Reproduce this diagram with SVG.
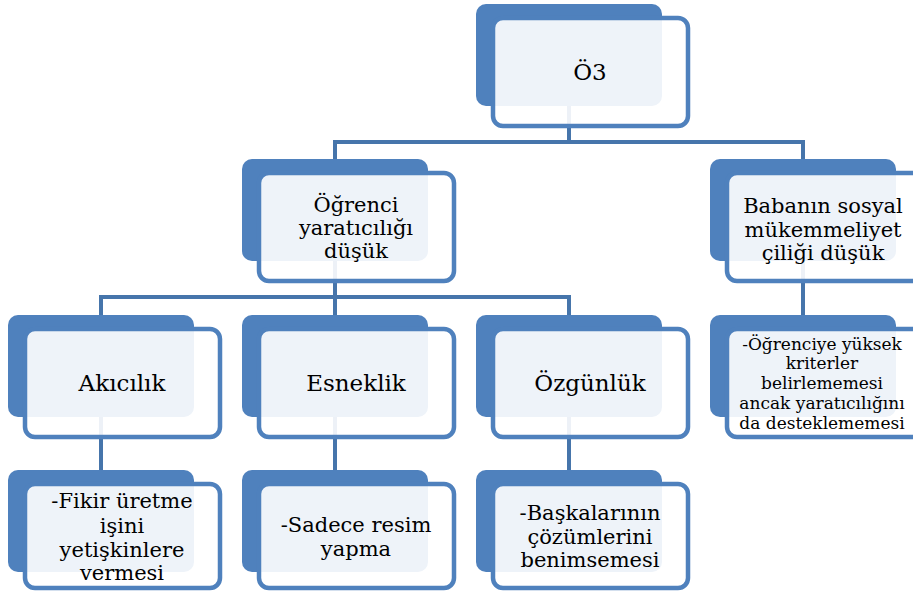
<svg xmlns="http://www.w3.org/2000/svg" width="913" height="592" viewBox="0 0 913 592">
<style>
.back{fill:#4f81bd}
.front{fill:#ffffff;fill-opacity:0.9;stroke:#4f81bd;stroke-width:4.5}
.conn{fill:none;stroke:#4675ab;stroke-width:4}
text{font-family:'DejaVu Serif','Liberation Serif',serif;font-size:21px;fill:#000;text-anchor:middle}
text.big{font-size:23px}
text.small{font-size:17px}
</style>
<rect width="913" height="592" fill="#ffffff"/>
<g id="connectors">
<path class="conn" d="M569,106 V142 M335,142 H803 M335,140 V160 M803,140 V160"/>
<path class="conn" d="M335,261 V297 M101,297 H569 M101,295 V316 M335,295 V316 M569,295 V316"/>
<path class="conn" d="M803,261 V316"/>
<path class="conn" d="M101,416 V471 M335,416 V471 M569,416 V471"/>
</g>
<g id="n-o3">
<rect class="back" x="476" y="4" width="186" height="102" rx="10"/>
<rect class="front" x="493" y="18" width="195" height="108" rx="10"/>
<text class="big" x="590" y="80">Ö3</text>
</g>
<g id="n-ogrenci">
<rect class="back" x="242" y="159" width="186" height="102" rx="10"/>
<rect class="front" x="259" y="173" width="195" height="108" rx="10"/>
<text x="356" y="212">Öğrenci</text>
<text x="356" y="235">yaratıcılığı</text>
<text x="356" y="258">düşük</text>
</g>
<g id="n-baba">
<rect class="back" x="710" y="159" width="186" height="102" rx="10"/>
<rect class="front" x="727" y="173" width="195" height="108" rx="10"/>
<text x="823" y="213">Babanın sosyal</text>
<text x="823" y="237">mükemmeliyet</text>
<text x="823" y="260">çiliği düşük</text>
</g>
<g id="n-akicilik">
<rect class="back" x="8" y="315" width="186" height="102" rx="10"/>
<rect class="front" x="25" y="329" width="195" height="108" rx="10"/>
<text class="big" x="122" y="391">Akıcılık</text>
</g>
<g id="n-esneklik">
<rect class="back" x="242" y="315" width="186" height="102" rx="10"/>
<rect class="front" x="259" y="329" width="195" height="108" rx="10"/>
<text class="big" x="356" y="391">Esneklik</text>
</g>
<g id="n-ozgunluk">
<rect class="back" x="476" y="315" width="186" height="102" rx="10"/>
<rect class="front" x="493" y="329" width="195" height="108" rx="10"/>
<text class="big" x="590" y="391">Özgünlük</text>
</g>
<g id="n-kriter">
<rect class="back" x="710" y="315" width="186" height="102" rx="10"/>
<rect class="front" x="727" y="329" width="195" height="108" rx="10"/>
<text class="small" x="822" y="350">-Öğrenciye yüksek</text>
<text class="small" x="822" y="369">kriterler</text>
<text class="small" x="822" y="389">belirlememesi</text>
<text class="small" x="822" y="409">ancak yaratıcılığını</text>
<text class="small" x="822" y="429">da desteklememesi</text>
</g>
<g id="n-fikir">
<rect class="back" x="8" y="470" width="186" height="102" rx="10"/>
<rect class="front" x="25" y="484" width="195" height="104" rx="10"/>
<text x="122" y="508">-Fikir üretme</text>
<text x="122" y="533">işini</text>
<text x="122" y="557">yetişkinlere</text>
<text x="122" y="580">vermesi</text>
</g>
<g id="n-sadece">
<rect class="back" x="242" y="470" width="186" height="102" rx="10"/>
<rect class="front" x="259" y="484" width="195" height="104" rx="10"/>
<text x="356" y="532">-Sadece resim</text>
<text x="356" y="556">yapma</text>
</g>
<g id="n-baskalari">
<rect class="back" x="476" y="470" width="186" height="102" rx="10"/>
<rect class="front" x="493" y="484" width="195" height="104" rx="10"/>
<text x="590" y="520">-Başkalarının</text>
<text x="590" y="544">çözümlerini</text>
<text x="590" y="567">benimsemesi</text>
</g>
</svg>
